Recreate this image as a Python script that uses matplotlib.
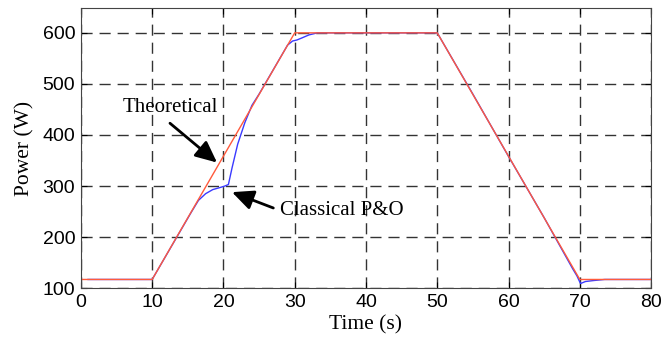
import matplotlib
matplotlib.use("Agg")
import matplotlib.pyplot as plt

# reference power profile
t_ref = [0, 10, 30, 50, 70, 80]
p_ref = [117, 117, 600, 600, 117, 117]

# classical P&O tracked power
t_po = [1, 10, 12, 14, 15.5, 16.5, 17.5, 18.5, 19.5, 20.2, 20.7, 21.2, 22, 23, 24, 25,
        27, 29, 29.7, 30.3, 31, 32, 33.2, 50, 55, 60, 65, 69, 69.6, 70.1, 70.8, 72, 73.5, 80]
p_po = [117, 117, 165, 213, 249, 272, 285, 293, 297, 300, 303, 335, 382, 424, 458, 480,
        528, 576, 584, 586, 590, 596, 600, 600, 480, 358, 238, 138, 124, 109, 113, 115, 117, 117]

fig = plt.figure(figsize=(6.63, 3.41), dpi=100)
ax = fig.add_axes([0.122, 0.155, 0.86, 0.822])

ax.plot(t_po, p_po, color="#3a3aff", lw=1.0)
ax.plot(t_ref, p_ref, color="#ff5a3c", lw=1.0)

ax.set_xlim(0, 80)
ax.set_ylim(100, 649)
ax.set_xticks(range(0, 81, 10))
ax.set_yticks(range(100, 601, 100))
ax.grid(True, color="#333333", linestyle=(0, (8, 5)), linewidth=1.0)
ax.tick_params(direction="in", top=True, right=True, length=4, labelsize=14, pad=4)
for lab in ax.get_xticklabels() + ax.get_yticklabels():
    lab.set_family("Liberation Sans")
for s in ax.spines.values():
    s.set_color("#444444")

serif = "Liberation Serif"
ax.set_xlabel("Time (s)", family=serif, fontsize=15.5, labelpad=3)
ax.set_ylabel("Power (W)", family=serif, fontsize=15.5, labelpad=6)

arrow = dict(arrowstyle="-|>,head_length=1.3,head_width=0.6", color="black", lw=2.0,
             shrinkA=0, shrinkB=0)
ax.text(12.5, 454, "Theoretical", family=serif, fontsize=15, ha="center", va="center")
ax.annotate("", xy=(19.1, 346), xytext=(12.5, 423), arrowprops=arrow)
ax.text(28.0, 253, "Classical P&O", family=serif, fontsize=15, ha="left", va="center")
ax.annotate("", xy=(21.2, 288), xytext=(27.0, 257), arrowprops=arrow)

fig.savefig("out.png", dpi=100)
